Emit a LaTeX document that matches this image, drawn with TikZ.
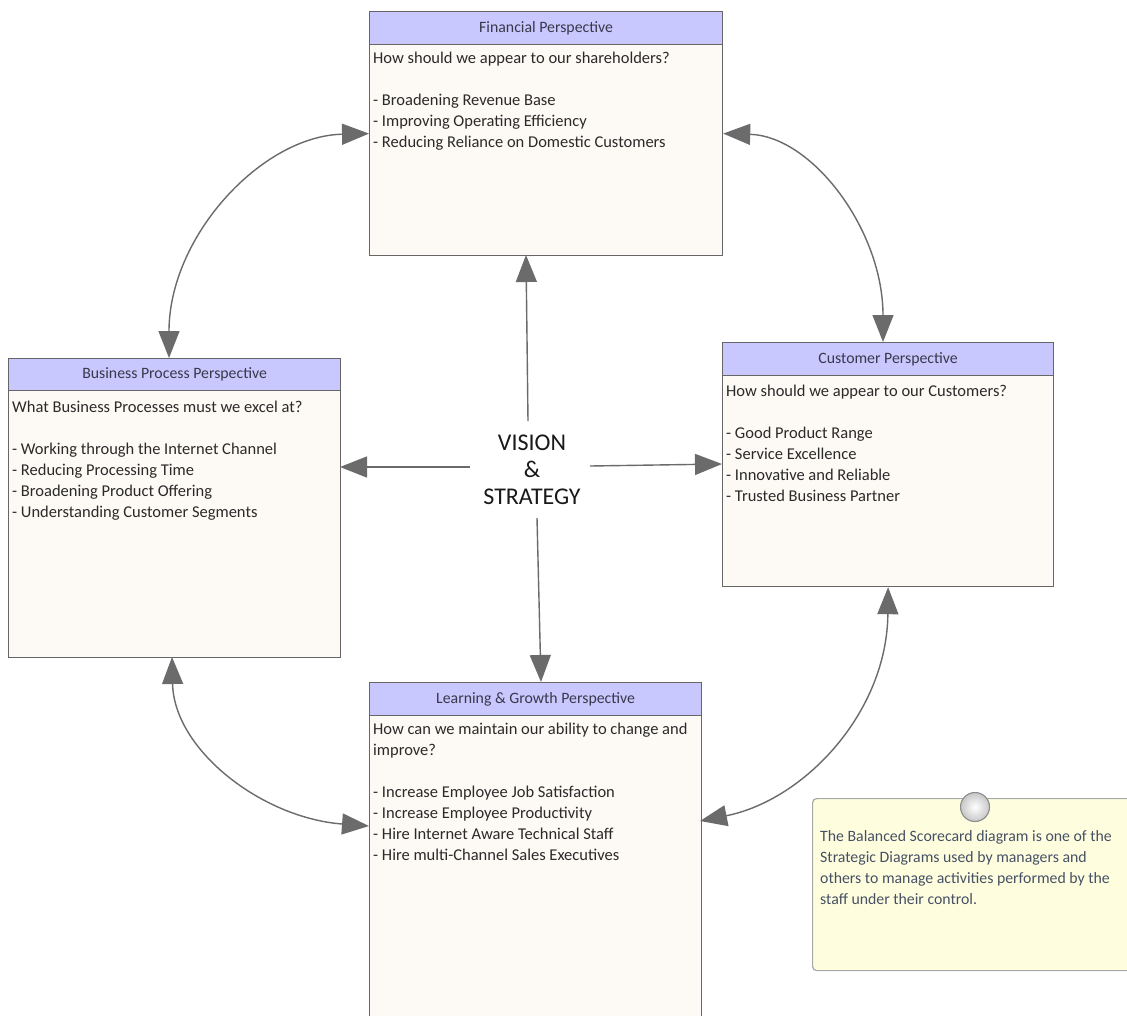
\documentclass[tikz,border=0pt]{standalone}
\usepackage{fontspec}
\setmainfont{Carlito}
\usetikzlibrary{arrows.meta}
\definecolor{boxline}{HTML}{666666}
\definecolor{boxfill}{HTML}{FDF9F5}
\definecolor{hdrfill}{HTML}{C8C8FF}
\definecolor{conn}{HTML}{6B6B6B}
\definecolor{txt}{HTML}{2A2A2A}
\definecolor{hdrtxt}{HTML}{38384A}
\definecolor{notefill}{HTML}{FEFEDF}
\definecolor{noteline}{HTML}{A8A8A8}
\definecolor{notetxt}{HTML}{465064}
\tikzset{
  box/.style={draw=boxline, fill=boxfill, line width=1.2pt, inner sep=0pt, anchor=north west},
  hdrbox/.style={draw=boxline, fill=hdrfill, line width=1.2pt, inner sep=0pt, anchor=north west,
     text=hdrtxt, font=\fontsize{15.8}{18}\selectfont},
  bodytext/.style={anchor=north west, inner sep=0pt, align=left, text=txt,
     font=\fontsize{16.5}{21}\selectfont},
  link/.style={draw=conn, line width=1.4pt, {Triangle[length=27pt,width=21pt]}-{Triangle[length=27pt,width=21pt]}},
  onelink/.style={draw=conn, line width=1.4pt, -{Triangle[length=27pt,width=21pt]}},
  notebox/.style={draw=noteline, fill=notefill, line width=1.2pt, rounded corners=4pt, inner sep=0pt, anchor=north west},
  notetext/.style={anchor=north west, inner sep=0pt, align=left, text=notetxt,
     font=\fontsize{15.8}{21}\selectfont},
}
\begin{document}
\begin{tikzpicture}[x=1pt,y=-1pt]
\useasboundingbox[fill=white] (0,0) rectangle (1127,1015);

% Financial
\node[box, minimum width=353pt, minimum height=244pt] (fin) at (369,11) {};
\node[hdrbox, minimum width=353pt, minimum height=33pt] (finh) at (369,11) {Financial Perspective};
\node[bodytext] (fint) at (373,52) {How should we appear to our shareholders?\\ ~\\- Broadening Revenue Base\\- Improving Operating Efficiency\\- Reducing Reliance on Domestic Customers};

% Business Process
\node[box, minimum width=332pt, minimum height=299pt] (bp) at (8,358) {};
\node[hdrbox, minimum width=332pt, minimum height=32pt] (bph) at (8,358) {Business Process Perspective};
\node[bodytext] (bpt) at (12,401) {What Business Processes must we excel at?\\ ~\\- Working through the Internet Channel\\- Reducing Processing Time\\- Broadening Product Offering\\- Understanding Customer Segments};

% Customer
\node[box, minimum width=331pt, minimum height=244pt] (cu) at (722,342) {};
\node[hdrbox, minimum width=331pt, minimum height=33pt] (cuh) at (722,342) {Customer Perspective};
\node[bodytext] (cut) at (726,385) {How should we appear to our Customers?\\ ~\\- Good Product Range\\- Service Excellence\\- Innovative and Reliable\\- Trusted Business Partner};

% Learning & Growth
\node[box, minimum width=332pt, minimum height=345pt] (lg) at (369,682) {};
\node[hdrbox, minimum width=332pt, minimum height=33pt] (lgh) at (369,682) {Learning \& Growth Perspective};
\node[bodytext] (lgt) at (373,723) {How can we maintain our ability to change and\\improve?\\ ~\\- Increase Employee Job Satisfaction\\- Increase Employee Productivity\\- Hire Internet Aware Technical Staff\\- Hire multi-Channel Sales Executives};

% Vision
\node[align=center, inner sep=0pt, font=\fontsize{24}{27}\selectfont, text=black!90] (vision) at (532,470) {VISION\\\&\\STRATEGY};
\coordinate (vN) at (528,421);
\coordinate (vW) at (470,467);
\coordinate (vE) at (590,466);
\coordinate (vS) at (537,518);
\coordinate (finS) at (526,255);
\coordinate (bpE) at (340,467);
\coordinate (cuW) at (722,464);
\coordinate (lgN) at (541,682);
\draw[onelink] (vN) -- (finS);
\draw[onelink] (vW) -- (bpE);
\draw[onelink] (vE) -- (cuW);
\draw[onelink] (vS) -- (lgN);

% Curved links
\coordinate (bpN) at (169,358);
\coordinate (bpS) at (172,657);
\coordinate (cuN) at (883,342);
\coordinate (lgW) at (369,826);
\coordinate (lgE) at (700,821);
\draw[link] (fin.west) .. controls (262,136) and (169,236) .. (bpN);
\draw[link] (fin.east) .. controls (812,136) and (883,230) .. (cuN);
\draw[link] (bpS) .. controls (174,750) and (262,818) .. (lgW);
\draw[link] (cu.south) .. controls (887,712) and (805,800) .. (lgE);

% Note
\node[notebox, minimum width=330pt, minimum height=172pt] (note) at (812,798) {};
\shade[inner color=white, outer color=black!22] (975,807) circle (14.5pt);
\node[draw=black!45, line width=1.1pt, circle, minimum size=29pt, inner sep=0pt] (pin) at (975,807) {};
\node[notetext] (notet) at (820,830) {The Balanced Scorecard diagram is one of the\\Strategic Diagrams used by managers and\\others to manage activities performed by the\\staff under their control.};
\end{tikzpicture}
\end{document}
